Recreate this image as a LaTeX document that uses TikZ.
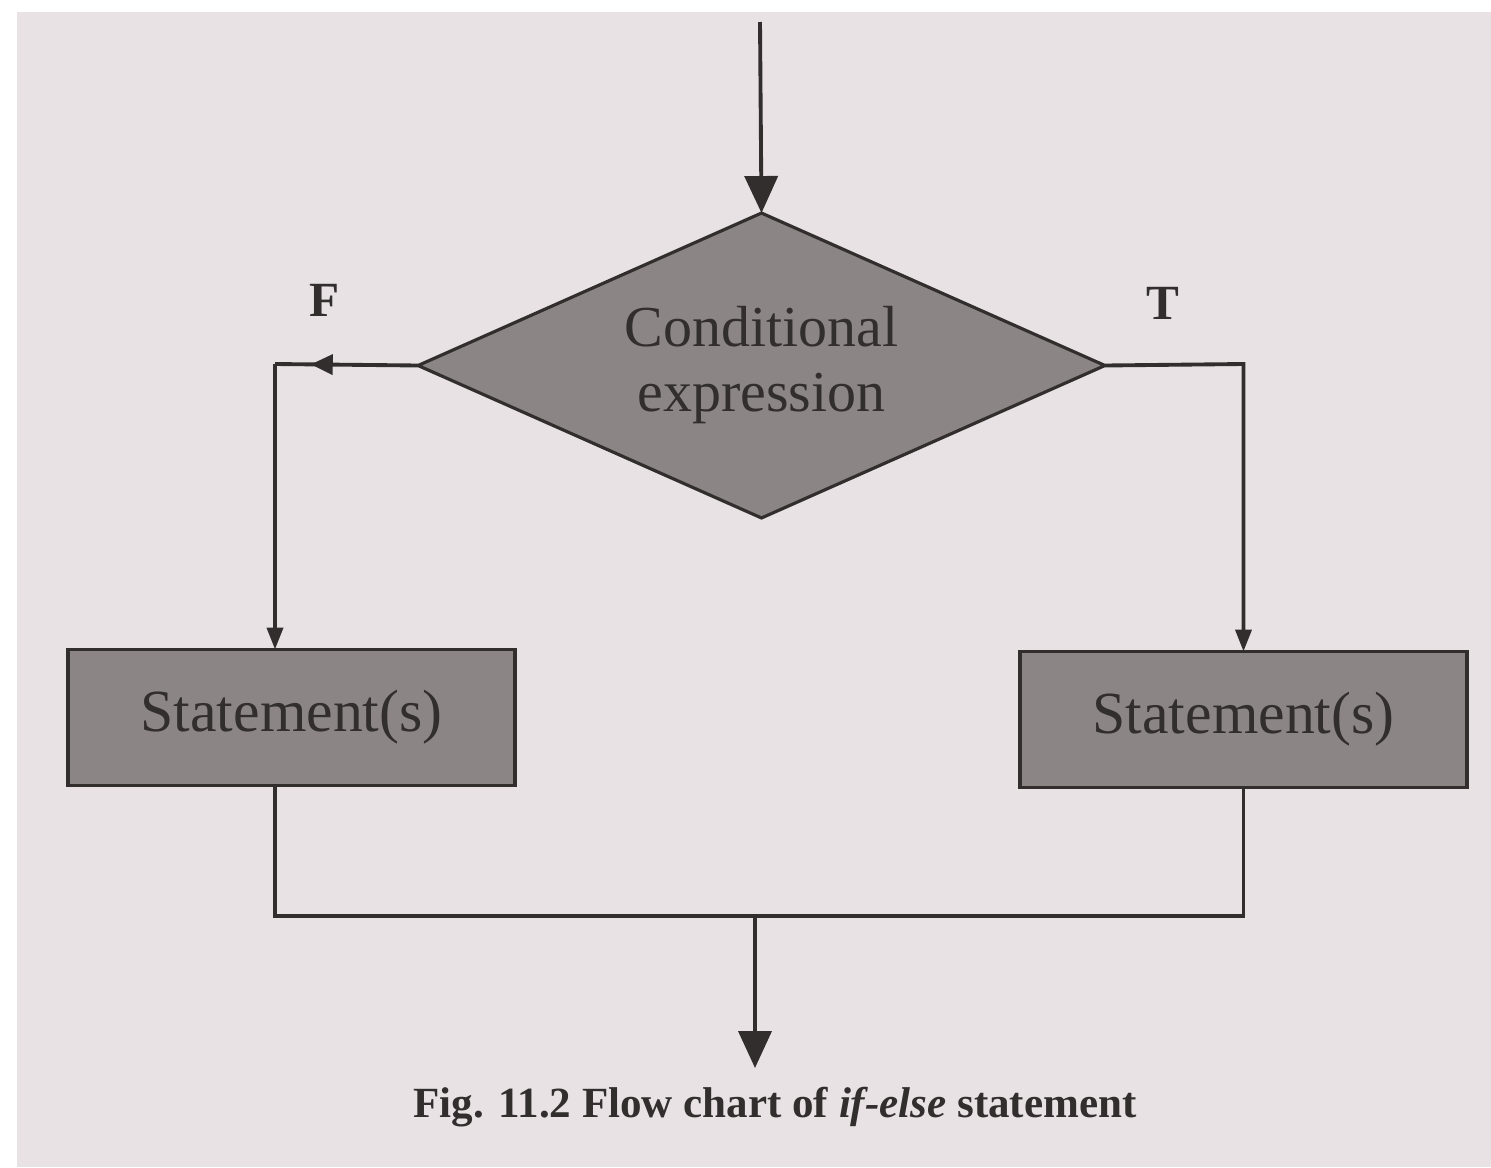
\documentclass[tikz,border=0pt]{standalone}
\usepackage{fontspec}
\setmainfont{Liberation Serif}
\usetikzlibrary{arrows.meta,shapes.geometric,decorations.markings}
\definecolor{PageGray}{RGB}{232,226,228}
\definecolor{BoxGray}{RGB}{140,133,133}
\definecolor{InkGray}{RGB}{50,46,46}

\begin{document}
\begin{tikzpicture}[x=0.02cm, y=-0.02cm,
	flow/.style={draw=InkGray, line width=2.2pt},
	bigtip/.style={-{Triangle[length=0.74cm, width=0.66cm]}},
	smalltip/.style={-{Triangle[length=0.44cm, width=0.32cm]}},
	decision/.style={diamond, aspect=2.25, draw=InkGray, line width=1.8pt, fill=BoxGray, inner sep=0pt, outer sep=0pt,
		minimum width=13.74cm, minimum height=6.1cm, align=center, text=InkGray,
		font=\fontsize{33}{37}\selectfont},
	stmtbox/.style={rectangle, draw=InkGray, line width=1.8pt, fill=BoxGray, outer sep=0pt,
		minimum width=8.94cm, minimum height=2.72cm, text=InkGray, font=\fontsize{34}{40}\selectfont},
	branch/.style={text=InkGray, font=\bfseries\fontsize{28}{32}\selectfont}
]
	\useasboundingbox (0,0) rectangle (1491,1167);
	\fill[white] (0,0) rectangle (1491,1167);
	\fill[PageGray] (17,12) rectangle (1491,1167);

	% shapes
	\node[decision] (cond) at (761.5,365.5) {Conditional\\expression};
	\node[stmtbox] (fbox) at (291.5,717.5) {Statement(s)};
	\node[stmtbox] (tbox) at (1243.5,719.5) {Statement(s)};
	\node[branch] (flabel) at (325,300) {F};
	\node[branch] (tlabel) at (1163,303) {T};
	\node[text=InkGray, font=\bfseries\fontsize{24.5}{28}\selectfont] (caption) at (775,1107)
		{Fig. 11.2 Flow chart of \textit{if-else} statement};

	\coordinate (entry) at (760,22);
	\coordinate (fturn) at (275,364);
	\coordinate (tturn) at (1243.5,364);
	\coordinate (join) at (755,916);
	\coordinate (exit) at (755,1068);

	% connectors
	\draw[flow, bigtip] (entry) -- (cond.north);
	\draw[flow, postaction={decorate}, decoration={markings,
		mark=at position 0.75 with {\arrow{Triangle[length=0.44cm, width=0.4cm]}}}]
		(cond.west) -- (fturn);
	\draw[flow, smalltip] (fturn) -- (fturn |- fbox.north);
	\draw[flow, smalltip] (cond.east) -- (tturn) -- (tbox.north);
	\draw[flow] (fturn |- fbox.south) |- (join) -| (tbox.south);
	\draw[flow, bigtip] (join) -- (exit);
\end{tikzpicture}
\end{document}
